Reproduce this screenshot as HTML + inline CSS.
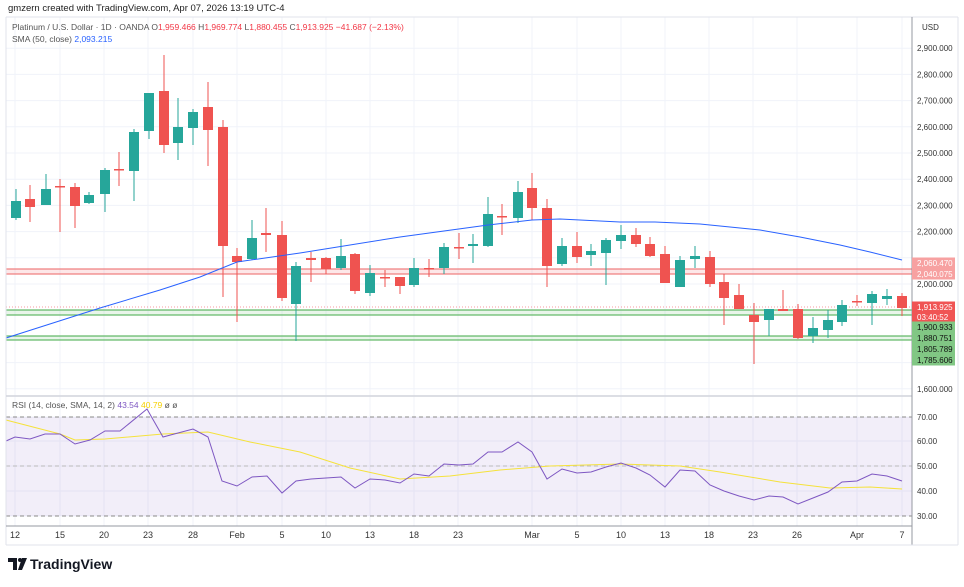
<!DOCTYPE html>
<html><head><meta charset="utf-8"><style>
html,body{margin:0;padding:0;background:#fff;}
body{width:964px;height:582px;overflow:hidden;font-family:"Liberation Sans",sans-serif;}
svg text{font-family:"Liberation Sans",sans-serif;}
</style></head><body>
<svg id="s" width="964" height="582" xmlns="http://www.w3.org/2000/svg">
<rect width="964" height="582" fill="#fff"/>
<g id="grid"></g>
<rect x="6" y="417" width="906" height="99" fill="#7e57c2" fill-opacity="0.1"/>
<line x1="6" y1="417" x2="912" y2="417" stroke="#888" stroke-dasharray="4,3" stroke-width="1"/>
<line x1="6" y1="466" x2="912" y2="466" stroke="#bbb" stroke-dasharray="4,3" stroke-width="1"/>
<line x1="6" y1="516" x2="912" y2="516" stroke="#888" stroke-dasharray="4,3" stroke-width="1"/>
<!-- horizontal level bands -->
<rect x="6" y="269" width="906" height="5" fill="#f23645" fill-opacity="0.12"/>
<line x1="6" y1="269" x2="912" y2="269" stroke="#f08080" stroke-width="1.2"/>
<line x1="6" y1="274" x2="912" y2="274" stroke="#f08080" stroke-width="1.2"/>
<rect x="6" y="310" width="906" height="5" fill="#4caf50" fill-opacity="0.12"/>
<line x1="6" y1="310" x2="912" y2="310" stroke="#66bb6a" stroke-width="1.2"/>
<line x1="6" y1="315" x2="912" y2="315" stroke="#66bb6a" stroke-width="1.2"/>
<rect x="6" y="336" width="906" height="4" fill="#4caf50" fill-opacity="0.12"/>
<line x1="6" y1="336" x2="912" y2="336" stroke="#66bb6a" stroke-width="1.2"/>
<line x1="6" y1="340" x2="912" y2="340" stroke="#66bb6a" stroke-width="1.2"/>
<line x1="6" y1="307" x2="912" y2="307" stroke="#f23645" stroke-opacity="0.5" stroke-dasharray="1,2"/>
<g id="candles"></g>
<polyline fill="none" stroke="#2962ff" stroke-width="1" points="6,338 100,308 160,290 200,277 237,262 300,253 400,237 488,225 532,220 560,219 620,222 655,222 700,224 760,230 800,237 840,245 870,252 902,260"/>
<polyline fill="none" stroke="#f5e23b" stroke-width="1" points="6,420 60,434 75,440 105,439 163,434 208,432 250,442 300,452 350,468 400,479 450,476 500,470 550,466 620,464 680,466 720,472 780,482 830,488 870,487 902,489"/>
<polyline fill="none" stroke="#7e57c2" stroke-width="1" points="6,441 15,437 30,439 45,434 60,434 75,444 90,440 105,431 120,431 147,409 163,437 178,433 193,429 208,437 222,481 237,486 252,477 267,476 282,493 296,481 311,479 326,478 341,477 355,488 370,479 385,480 400,483 414,474 429,476 444,464 459,465 473,464 488,452 502,452 518,442 532,452 547,479 562,469 577,473 591,472 606,467 621,463 636,468 650,475 665,487 680,470 695,471 710,485 724,491 739,496 754,500 769,496 783,497 798,504 813,498 828,492 842,482 857,481 872,474 887,476 902,481"/>
<!-- frames -->
<line x1="6" y1="17" x2="6" y2="545" stroke="#e0e3eb"/>
<line x1="6" y1="17" x2="958" y2="17" stroke="#e0e3eb"/>
<line x1="6" y1="396" x2="912" y2="396" stroke="#d1d4dc" stroke-width="1.5"/>
<line x1="6" y1="526" x2="912" y2="526" stroke="#9598a1" stroke-width="1"/>
<line x1="912" y1="17" x2="912" y2="545" stroke="#9598a1" stroke-width="1"/>
<line x1="6" y1="545" x2="958" y2="545" stroke="#e0e3eb"/>
<line x1="958" y1="17" x2="958" y2="545" stroke="#e0e3eb"/>
<g id="axis" font-size="8" fill="#333"></g>
<g id="time" font-size="9" fill="#333"></g>
<text x="8" y="11" font-size="9.5" fill="#222">gmzern created with TradingView.com, Apr 07, 2026 13:19 UTC-4</text>
<text x="12" y="30" font-size="8.5" fill="#555">Platinum / U.S. Dollar · 1D · OANDA <tspan fill="#555">O</tspan><tspan fill="#f23645">1,959.466</tspan> <tspan fill="#555">H</tspan><tspan fill="#f23645">1,969.774</tspan> <tspan fill="#555">L</tspan><tspan fill="#f23645">1,880.455</tspan> <tspan fill="#555">C</tspan><tspan fill="#f23645">1,913.925 −41.687 (−2.13%)</tspan></text>
<text x="12" y="42" font-size="8.5" fill="#555">SMA (50, close) <tspan fill="#2962ff">2,093.215</tspan></text>
<text x="12" y="408" font-size="8.5" fill="#555">RSI (14, close, SMA, 14, 2) <tspan fill="#7e57c2">43.54</tspan> <tspan fill="#f5d000">40.79</tspan> ø ø</text>
<text x="922" y="30" font-size="8" fill="#333">USD</text>
<g id="badges" font-size="8"></g>
<text x="30" y="569" font-size="14" font-weight="bold" fill="#131722">TradingView</text>
<path d="M8,558h9v12h-4v-8h-5z" fill="#131722"/><circle cx="20" cy="560" r="2" fill="#131722"/><path d="M22,558h5l-5,12h-4z" fill="#131722"/>
</svg>
<script>
const NS="http://www.w3.org/2000/svg";
function el(p,t,a,tx){const e=document.createElementNS(NS,t);for(const k in a)e.setAttribute(k,a[k]);if(tx!==undefined)e.textContent=tx;document.getElementById(p).appendChild(e);return e;}
// grid
const tx=[[15,"12"],[60,"15"],[104,"20"],[148,"23"],[193,"28"],[237,"Feb"],[282,"5"],[326,"10"],[370,"13"],[414,"18"],[458,"23"],[532,"Mar"],[577,"5"],[621,"10"],[665,"13"],[709,"18"],[753,"23"],[797,"26"],[857,"Apr"],[902,"7"]];
tx.forEach(([x,l])=>{el("grid","line",{x1:x,y1:17,x2:x,y2:526,stroke:"#f0f3fa"});el("time","text",{x:x,y:538,"text-anchor":"middle"},l);});
for(let p=1600;p<=2900;p+=100){const y=284-(p-2000)*0.262;el("grid","line",{x1:6,y1:y,x2:912,y2:y,stroke:"#f0f3fa"});
 if(![1700,1800,1900,2100].includes(p))el("axis","text",{x:917,y:y+3},(p/1000|0)+","+String(p%1000).padStart(3,"0")+".000");}
[[70,417],[60,441],[50,466],[40,491],[30,516]].forEach(([v,y])=>{el("grid","line",{x1:6,y1:y,x2:912,y2:y,stroke:"#f0f3fa"});el("axis","text",{x:917,y:y+3},v+".00");});
// candles: x, o, c, h, l, g(1 green)
const C=[[16,218,201,189,220,1],[30,199,207,185,222,0],[46,205,189,174,205,1],[60,186,187,179,232,0],[75,187,206,183,228,0],[89,203,195,192,204,1],[105,194,170,168,212,1],[119,169,170,152,186,0],[134,171,132,129,201,1],[149,131,93,93,139,1],[164,91,145,55,153,0],[178,143,127,98,160,1],[193,128,112,109,145,1],[208,107,130,82,166,0],[223,127,246,120,297,0],[237,256,262,248,322,0],[252,259,238,220,260,1],[266,233,235,208,252,0],[282,235,298,221,301,0],[296,304,266,262,341,1],[311,258,260,252,282,0],[326,258,269,257,274,0],[341,268,256,239,270,1],[355,254,291,253,294,0],[370,293,273,265,296,1],[385,277,278,270,287,0],[400,277,286,277,294,0],[414,285,268,258,287,1],[429,268,269,259,277,0],[444,268,247,243,274,1],[459,247,248,233,259,0],[473,246,244,234,263,1],[488,246,214,197,247,1],[502,216,217,204,235,0],[518,218,192,181,223,1],[532,188,208,173,220,0],[547,208,266,199,287,0],[562,264,246,238,266,1],[577,246,257,232,263,0],[591,255,251,244,266,1],[606,253,240,238,285,1],[621,241,235,225,249,1],[636,235,244,228,247,0],[650,244,256,237,257,0],[665,254,283,246,283,0],[680,287,260,256,287,1],[695,259,256,246,268,1],[710,257,284,251,287,0],[724,282,298,274,325,0],[739,295,309,284,309,0],[754,315,322,303,364,0],[769,320,309,309,336,1],[783,309,311,290,311,0],[798,309,338,304,339,0],[813,336,328,317,343,1],[828,330,320,310,338,1],[842,322,305,300,326,1],[857,301,302,295,306,0],[872,303,294,291,325,1],[887,299,296,289,305,1],[902,296,308,293,316,0]];
C.forEach(([x,o,c,h,l,g])=>{const col=g?"#26a69a":"#ef5350";el("candles","line",{x1:x,y1:h,x2:x,y2:l,stroke:col,"stroke-width":1});
 const t=Math.min(o,c),b=Math.max(o,c);el("candles","rect",{x:x-5,y:t,width:10,height:Math.max(1.5,b-t),fill:col});});
// badges
const B=[[263,"2,060.470","#f7a1a1","#fff"],[274,"2,040.075","#f7a1a1","#fff"],[307,"1,913.925","#f05454","#fff"],[317,"03:40:52","#f05454","#fff"],[327,"1,900.933","#81c784","#111"],[338,"1,880.751","#81c784","#111"],[349,"1,805.789","#81c784","#111"],[360,"1,785.606","#81c784","#111"]];
B.forEach(([y,t,bg,fg])=>{el("badges","rect",{x:912,y:y-5.5,width:43,height:11,fill:bg});el("badges","text",{x:917,y:y+3,fill:fg},t);});
</script>
</body></html>
